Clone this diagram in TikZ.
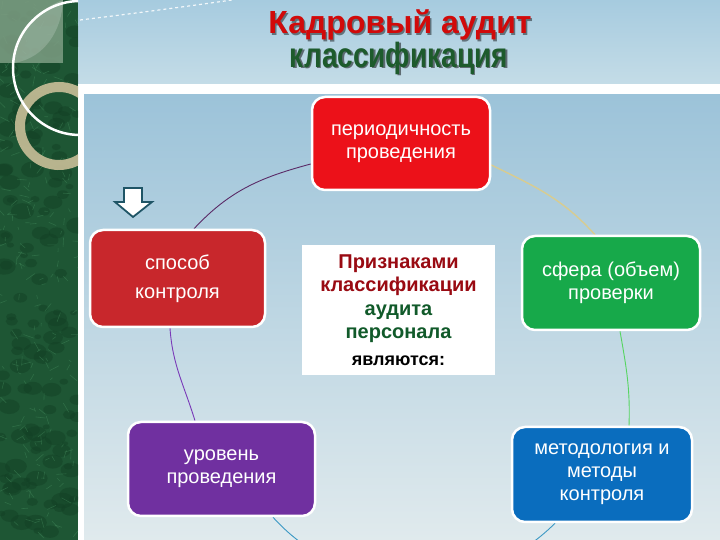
\documentclass[tikz,border=0pt]{standalone}
\usepackage{fontspec}
\setmainfont{Liberation Sans}
\usetikzlibrary{calc}
\pgfdeclarelayer{back}
\pgfdeclarelayer{conn}
\pgfsetlayers{back,conn,main}
\definecolor{gdark}{HTML}{1E5634}
\definecolor{gdeep}{HTML}{123F24}
\definecolor{glite}{HTML}{4E9A68}
\definecolor{sage}{HTML}{7E9E84}
\definecolor{beige}{HTML}{C9BF98}
\definecolor{skyA}{HTML}{A6CBDF}
\definecolor{skyB}{HTML}{C4DCE7}
\definecolor{panelTop}{HTML}{9CC3D9}
\definecolor{panelBot}{HTML}{E0EAED}
\definecolor{cRedA}{HTML}{EC1119}
\definecolor{cRedB}{HTML}{C8272C}
\definecolor{cGreen}{HTML}{17A94A}
\definecolor{cPurple}{HTML}{7030A0}
\definecolor{cBlue}{HTML}{0A6DBE}
\definecolor{tRed}{HTML}{D10A0A}
\definecolor{tGreen}{HTML}{1D5B2C}
\definecolor{kRed}{HTML}{990A12}
\definecolor{kGreen}{HTML}{115A2A}
\definecolor{arrowc}{HTML}{1F5566}
\definecolor{l1}{HTML}{5A2A66}
\definecolor{l2}{HTML}{D8CC90}
\definecolor{l3}{HTML}{55D560}
\definecolor{l4}{HTML}{7A3AB8}
\definecolor{l5}{HTML}{3A98C4}
\tikzset{
  box/.style={draw=white, line width=2.5pt, rounded corners=13pt, text=white,
    align=center, inner sep=0pt, font=\fontsize{20}{23}\selectfont},
  link/.style={line width=0.9pt},
}
\begin{document}
\begin{tikzpicture}[x=1pt,y=1pt]
\useasboundingbox (0,0) rectangle (720,540);
\clip (0,0) rectangle (720,540);
\begin{pgfonlayer}{back}
  % top band and panel
  \shade[top color=skyA, bottom color=skyB] (78,456) rectangle (720,540);
  \fill[white] (78,445) rectangle (720,456);
  \fill[white] (78,0) rectangle (84,456);
  \shade[top color=panelTop, bottom color=panelBot] (84,0) rectangle (720,445);
  \draw[white, line width=1.2pt, dash pattern=on 3pt off 3pt, opacity=.85]
    (80,520) .. controls (130,526) and (190,534) .. (232,540);
  % green marbled strip
  \begin{scope}
    \clip (0,0) rectangle (78,540);
    \fill[gdark] (0,0) rectangle (78,540);
    \pgfmathsetseed{7}
    \foreach \i in {1,...,140}{
      \pgfmathsetmacro{\xx}{rnd*78}
      \pgfmathsetmacro{\yy}{rnd*540}
      \pgfmathsetmacro{\rr}{3+rnd*9}
      \fill[gdeep, opacity=.45] (\xx,\yy) ellipse ({\rr} and {\rr*0.7});
    }
    \foreach \i in {1,...,220}{
      \pgfmathsetmacro{\xx}{rnd*78}
      \pgfmathsetmacro{\yy}{rnd*540}
      \pgfmathsetmacro{\aa}{rnd*360}
      \pgfmathsetmacro{\ll}{3+rnd*8}
      \draw[glite, opacity=.35, line width=.6pt] (\xx,\yy) -- ++(\aa:\ll);
    }
    \fill[sage, opacity=.85] (0,477) rectangle (63,540);
    \fill[white, opacity=.18] (63,540) .. controls (62,510) and (45,482) .. (14,477)
      .. controls (18,505) and (35,530) .. (63,540) -- cycle;
    \draw[beige, line width=10pt, opacity=.9] (59,414) circle (39);
    \draw[white, line width=2.5pt] (80,472) circle (67);
  \end{scope}
  % hollow down arrow
  \draw[arrowc, fill=white, line width=1.8pt, line join=miter]
    (124,352) -- (142,352) -- (142,338) -- (152,338) -- (133,323) -- (115,338) -- (124,338) -- cycle;
\end{pgfonlayer}

% titles
\node[font=\fontsize{32}{34}\selectfont\bfseries, text=black, opacity=.45] (titleS) at (401.5,513.5) {Кадровый аудит};
\node[font=\fontsize{32}{34}\selectfont\bfseries, text=tRed] (title) at (400,515) {Кадровый аудит};
\node[font=\fontsize{35}{36}\selectfont\bfseries, text=black, opacity=.5] (subS) at (400.5,480.5) {\scalebox{0.8}[1]{классификация}};
\node[font=\fontsize{35}{36}\selectfont\bfseries, text=tGreen] (sub) at (399,482) {\scalebox{0.8}[1]{классификация}};

% boxes
\node[box, fill=cRedA, minimum width=178pt, minimum height=93pt] (per) at (401,396.5)
  {периодичность\\проведения};
\node[box, fill=cRedB, minimum width=175pt, minimum height=97pt, font=\fontsize{20}{29}\selectfont] (spo) at (177.5,261.5)
  {способ\\контроля};
\node[box, fill=cGreen, minimum width=178pt, minimum height=94pt] (sfe) at (611,257)
  {сфера (объем)\\проверки};
\node[box, fill=cPurple, minimum width=187pt, minimum height=94pt] (urv) at (221.5,71)
  {уровень\\проведения};
\node[box, fill=cBlue, minimum width=180pt, minimum height=95pt] (met) at (602,65.5)
  {методология и\\методы\\контроля};
\node[fill=white, minimum width=193pt, minimum height=130pt, inner sep=0pt, align=center,
  font=\fontsize{20}{23.5}\selectfont\bfseries] (ctr) at (398.5,230)
  {\textcolor{kRed}{Признаками}\\
   \textcolor{kRed}{классификации}\\
   \textcolor{kGreen}{аудита}\\
   \textcolor{kGreen}{персонала}\\[3pt]
   {\fontsize{18}{20}\selectfont\textcolor{black}{являются:}}};

% connectors (circle behind the boxes)
\begin{pgfonlayer}{conn}
  \draw[link, l1] ($(per.west)+(0,-20.5)$) to[out=195, in=47] ($(spo.north)+(16.5,0)$);
  \draw[link, l2, line width=1.4pt] ($(per.east)+(0,-21.5)$) to[out=334, in=132] ($(sfe.north)+(-16,0)$);
  \draw[link, l3] ($(sfe.south)+(9,0)$) to[out=280, in=88] ($(met.north)+(27,0)$);
  \draw[link, l4] ($(spo.south)+(-7.5,0)$) to[out=274, in=107] ($(urv.north)+(-26.5,0)$);
  \draw[link, l5] ($(urv.south)+(51.5,0)$) to[out=312, in=225] ($(met.south)+(-47,0)$);
\end{pgfonlayer}
\end{tikzpicture}
\end{document}
